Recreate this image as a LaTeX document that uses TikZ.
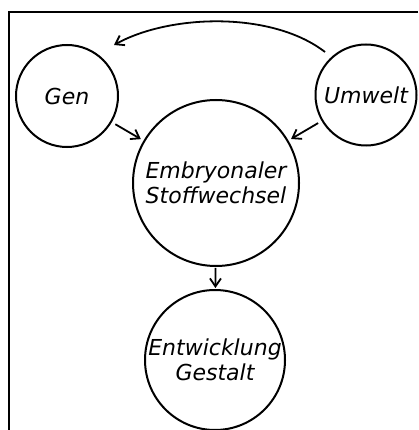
\documentclass[tikz,border=0pt]{standalone}
\usepackage{fontspec}
\setmainfont{DejaVu Sans}
\usetikzlibrary{arrows.meta}

\tikzset{
    blob/.style={draw, circle, line width=2pt, inner sep=0pt, align=center,
        font=\fontsize{22}{25}\selectfont\itshape},
    arr/.style={-{Straight Barb[length=8pt, width=11pt, line width=1.8pt]}, line width=1.8pt}
}

\begin{document}
\begin{tikzpicture}[x=1pt, y=-1pt]
        \useasboundingbox (0, 0) rectangle (418, 430);
        \draw[line width=1.8pt] (418, 12) -- (9, 12) -- (9, 430);
        \node[blob, minimum size=102pt] (gen) at (67, 96) {Gen};
        \node[blob, minimum size=101pt] (umw) at (366, 95) {Umwelt};
        \node[blob, minimum size=166pt] (emb) at (216, 183) {Embryonaler\\Stoffwechsel};
        \node[blob, minimum size=140pt] (ent) at (215, 360) {Entwicklung\\Gestalt};
        \coordinate (bogenA) at (325, 52);
        \coordinate (bogenB) at (114, 45);
        \draw[arr] (bogenA) .. controls (272, 11) and (170, 14) .. (bogenB);
        \draw[arr, shorten <=4pt, shorten >=3pt] (gen) -- (emb);
        \draw[arr, shorten <=4pt, shorten >=3pt] (umw) -- (emb);
        \draw[arr, shorten <=1pt, shorten >=1pt] (emb) -- (ent);
    \end{tikzpicture}
\end{document}
